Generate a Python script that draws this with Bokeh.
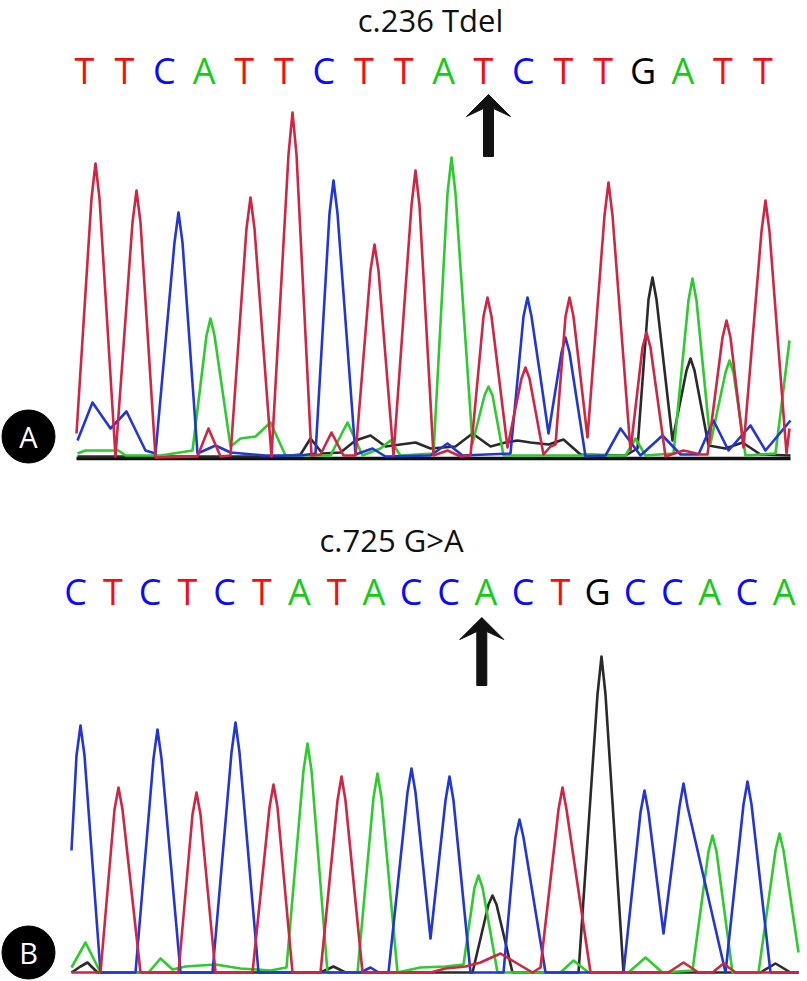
from bokeh.plotting import figure
from bokeh.layouts import column
from bokeh.models import Range1d, ColumnDataSource
from bokeh.core.properties import value
from bokeh.embed import file_html
from bokeh.resources import INLINE

# ---------------- data: panel A (c.236 Tdel) ----------------
a_title = "c.236 Tdel"
a_label = "A"
a_seq = list("TTCATTCTTATCTTGATT")
a_mut_index = 10
# traces: x = scan position, y = signal intensity
a_T_x = [76, 91, 95, 99, 115, 132, 136, 140, 155, 197, 208, 220, 230, 246, 250, 254, 271, 288, 292, 296,
         311, 320, 331, 343, 355, 370, 374, 378, 393, 411, 415, 419, 433, 447, 460, 470, 483, 487, 491, 507,
         521, 525, 529, 543, 550, 555, 565, 569, 573, 587, 604, 608, 612, 630, 642, 646, 650, 665, 683, 700,
         707, 722, 726, 730, 743, 761, 765, 769, 786, 789]
a_T_y = [25, 260, 295, 260, 2, 236, 268, 236, 1, 2, 30, 2, 3, 230, 261, 230, 2, 304, 346, 304,
         3, 4, 26, 3, 3, 188, 214, 188, 3, 253, 288, 253, 3, 8, 2, 3, 142, 161, 142, 11,
         80, 91, 80, 4, 12, 14, 142, 161, 142, 21, 243, 276, 243, 8, 111, 126, 111, 2, 8, 4,
         4, 121, 138, 121, 11, 227, 258, 227, 5, 30]
a_C_x = [77, 92, 110, 126, 145, 155, 174, 178, 182, 197, 215, 230, 265, 300, 315, 329, 333, 337, 355, 372,
         385, 430, 447, 462, 510, 523, 527, 531, 540, 548, 561, 565, 569, 585, 605, 620, 640, 662, 680, 698,
         713, 728, 750, 765, 790]
a_C_y = [18, 56, 30, 47, 8, 5, 216, 246, 216, 5, 13, 6, 3, 3, 5, 245, 278, 245, 4, 10,
         2, 3, 15, 3, 5, 142, 161, 142, 81, 25, 106, 121, 106, 2, 3, 30, 3, 23, 4, 4,
         38, 8, 33, 8, 38]
a_A_x = [77, 85, 118, 125, 160, 192, 206, 210, 214, 230, 240, 255, 270, 285, 330, 347, 362, 380, 390, 400,
         433, 447, 451, 455, 472, 484, 488, 492, 503, 560, 625, 635, 645, 673, 688, 692, 696, 710, 725, 729,
         733, 745, 775, 789]
a_A_y = [5, 8, 8, 3, 3, 8, 123, 140, 123, 12, 20, 22, 36, 3, 3, 36, 3, 10, 18, 3,
         5, 265, 301, 265, 15, 63, 72, 63, 3, 3, 3, 20, 3, 5, 158, 180, 158, 15, 86, 98,
         86, 3, 5, 118]
a_G_x = [77, 280, 300, 310, 322, 340, 355, 370, 385, 400, 415, 430, 455, 472, 490, 505, 517, 530, 548, 563,
         580, 625, 637, 648, 652, 656, 672, 686, 690, 694, 708, 725, 742, 760, 790]
a_G_y = [2, 2, 4, 20, 5, 6, 18, 23, 12, 14, 16, 10, 12, 25, 12, 16, 18, 16, 14, 19,
         4, 3, 10, 159, 181, 159, 18, 88, 100, 88, 13, 10, 16, 4, 3]

# ---------------- data: panel B (c.725 G>A) ----------------
b_title = "c.725 G>A"
b_label = "B"
b_seq = list("CTCTCTATACCACTGCCACA")
b_mut_index = 11
b_C_x = [71, 76, 80, 84, 100, 135, 153, 157, 161, 180, 212, 231, 235, 239, 258, 360, 370, 378, 388, 407,
         411, 415, 430, 445, 449, 453, 470, 503, 515, 519, 523, 545, 623, 640, 644, 648, 663, 679, 683, 687,
         725, 743, 747, 751, 770, 798]
b_C_y = [122, 217, 247, 217, 0, 0, 214, 243, 214, 0, 0, 220, 250, 220, 0, 0, 5, 0, 0, 180,
         204, 180, 34, 172, 196, 172, 0, 0, 135, 153, 135, 0, 0, 160, 182, 160, 39, 166, 189, 166,
         0, 168, 191, 168, 0, 0]
b_T_x = [71, 100, 114, 118, 122, 140, 178, 192, 196, 200, 215, 252, 269, 273, 277, 292, 320, 337, 341, 345,
         362, 430, 445, 465, 480, 500, 515, 532, 540, 558, 562, 566, 590, 668, 683, 698, 712, 723, 735, 798]
b_T_y = [0, 0, 163, 185, 163, 0, 0, 158, 180, 158, 0, 0, 165, 188, 165, 0, 0, 172, 196, 172,
         0, 0, 4, 6, 10, 19, 10, 0, 5, 163, 185, 163, 0, 0, 10, 0, 0, 9, 0, 0]
b_A_x = [71, 85, 100, 148, 160, 172, 185, 215, 240, 270, 286, 303, 307, 311, 327, 357, 373, 377, 381, 397,
         420, 445, 463, 474, 478, 482, 497, 560, 573, 588, 628, 645, 662, 692, 708, 712, 716, 732, 758, 775,
         779, 783, 798]
b_A_y = [5, 30, 0, 0, 14, 3, 6, 8, 4, 2, 5, 202, 229, 202, 0, 0, 175, 199, 175, 0,
         5, 6, 8, 85, 97, 85, 0, 0, 12, 0, 0, 15, 0, 2, 121, 137, 121, 0, 0, 122,
         139, 122, 20]
b_G_x = [71, 80, 87, 97, 320, 333, 345, 472, 488, 492, 496, 512, 578, 597, 601, 605, 623, 760, 775, 790, 798]
b_G_y = [0, 6, 10, 0, 0, 6, 0, 0, 68, 77, 68, 0, 0, 278, 316, 278, 0, 0, 9, 0, 0]

# ---------------- styles ----------------
FONT = value("Open Sans")
letter_colors = {"A": "#14cc14", "C": "#0a0aff", "G": "#000000", "T": "#ff0a0a"}
trace_colors = {"A": "#2ccc2c", "C": "#2236d8", "G": "#2a2a2a", "T": "#d22443"}
W = 807


def make_panel(height, y_lo, y_hi, title, title_x, title_base, seq, call_x0, call_dx, letter_base,
               traces, mut_index, arrow_dx, arrow_tip, arrow_len, label, label_y, axis_line):
    p = figure(width=W, height=height, x_range=Range1d(0, W), y_range=Range1d(y_lo, y_hi),
               output_backend="svg", toolbar_location=None, x_axis_type=None, y_axis_type=None,
               min_border=0, outline_line_color=None)
    p.background_fill_color = "white"
    p.border_fill_color = "white"
    p.grid.visible = False

    # mutation title
    p.text(x=[title_x], y=[title_base], text=[title], text_font=FONT, text_font_size=value("31px"),
           text_align="center", text_baseline="alphabetic", text_color="#111111")

    # base calls
    xs = [call_x0 + i * call_dx for i in range(len(seq))]
    src = ColumnDataSource(dict(x=xs, y=[letter_base] * len(seq), t=seq,
                                c=[letter_colors[b] for b in seq]))
    p.text(x="x", y="y", text="t", text_color="c", source=src, text_font=FONT,
           text_font_size=value("36px"), text_align="center", text_baseline="alphabetic")

    # arrow pointing at the mutated base
    ax = xs[mut_index] + arrow_dx
    hw, sw, hl, nl = 22, 5, 22, 14
    px = [ax, ax + hw, ax + sw, ax + sw, ax - sw, ax - sw, ax - hw]
    py = [arrow_tip, arrow_tip - hl, arrow_tip - nl, arrow_tip - arrow_len, arrow_tip - arrow_len,
          arrow_tip - nl, arrow_tip - hl]
    p.patch(px, py, fill_color="#111111", line_color="#111111", line_width=1)

    # axis line (panel A only)
    if axis_line:
        allx = [x for tx, _ in traces.values() for x in tx]
        p.line([min(allx), max(allx)], [0, 0], line_color="#111111", line_width=3.5)

    # chromatogram traces
    for base in ["G", "A", "C", "T"]:
        tx, ty = traces[base]
        p.line(tx, ty, line_color=trace_colors[base], line_width=2.6, line_join="round")

    # panel label
    p.scatter(x=[28], y=[label_y], size=53, marker="circle", fill_color="#000000", line_color="#000000")
    p.text(x=[28], y=[label_y], text=[label], text_font=FONT, text_font_size=value("29px"),
           text_align="center", text_baseline="middle", text_color="white")
    return p


pA = make_panel(490, -32, 458, a_title, 430, 439, a_seq, 84, 39.9, 388,
                {"T": (a_T_x, a_T_y), "C": (a_C_x, a_C_y), "A": (a_A_x, a_A_y), "G": (a_G_x, a_G_y)},
                a_mut_index, 5, 364, 62, a_label, 22, True)
pB = make_panel(491, -9, 482, b_title, 391, 433, b_seq, 75, 37.3, 381,
                {"T": (b_T_x, b_T_y), "C": (b_C_x, b_C_y), "A": (b_A_x, b_A_y), "G": (b_G_x, b_G_y)},
                b_mut_index, -4, 355, 68, b_label, 20, False)

layout = column(pA, pB, spacing=0)
open("out.html", "w").write(file_html(layout, INLINE))
